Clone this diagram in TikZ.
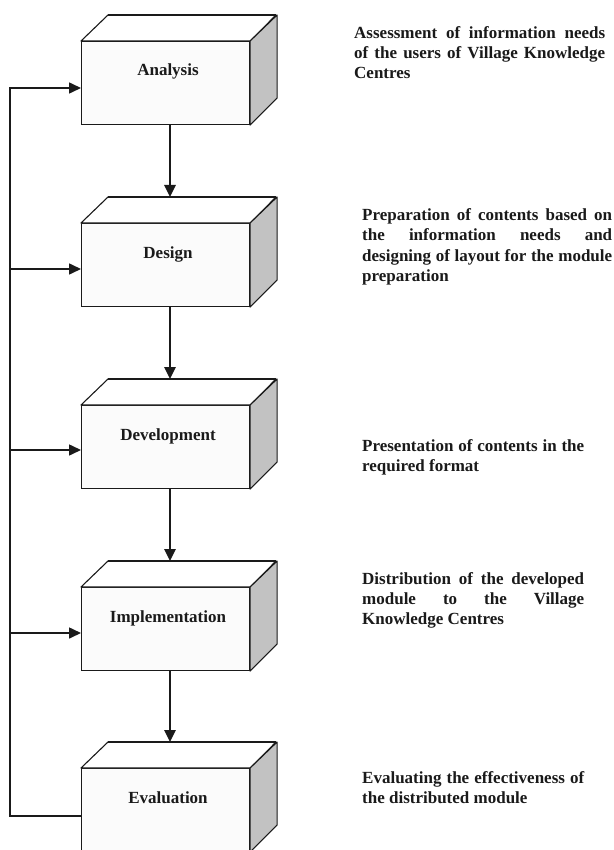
\documentclass[tikz,border=0pt]{standalone}
\usepackage{fontspec}
\setmainfont{Liberation Serif}
\usetikzlibrary{arrows.meta,calc}
\definecolor{sidegray}{HTML}{C2C2C2}
\definecolor{frontgray}{HTML}{FBFBFB}
\definecolor{ink}{HTML}{1A1A1A}
\tikzset{
  front/.style={draw=ink, line width=1.1pt, fill=frontgray, minimum width=168pt, minimum height=83pt, inner sep=0pt, anchor=north west},
  topface/.style={draw=ink, line width=1.1pt, fill=white, line join=round},
  sideface/.style={draw=ink, line width=1.1pt, fill=sidegray, line join=round},
  lbl/.style={font=\bfseries\fontsize{17}{20}\selectfont, text=ink, inner sep=0pt, anchor=base},
  desc/.style={font=\bfseries\fontsize{17}{20}\selectfont, text=ink, inner sep=0pt, anchor=base west, align=justify},
  darrow/.style={draw=ink, line width=2.6pt, -{Triangle[length=12pt,width=11pt]}},
  fbarrow/.style={draw=ink, line width=1.6pt, -{Triangle[length=12pt,width=11pt]}},
  fbline/.style={draw=ink, line width=1.6pt},
}
\newcommand{\stagebox}[4]{%
  \node[front] (#1) at (81,#2) {};
  \filldraw[topface] (#1.north west) -- ++(27,-26) -- ++(168,0) -- (#1.north east) -- cycle;
  \filldraw[sideface] (#1.north east) -- ++(27,-26) -- ++(0,83) -- (#1.south east) -- cycle;
  \draw[ink, line width=#4] ($(#1.north west)+(27,-26)$) -- ++(168,0);
  \node[lbl] (#1L) at (168,{#2+35}) {#3};
}
\begin{document}
\begin{tikzpicture}[x=1pt,y=-1pt]
\useasboundingbox (0,0) rectangle (613,850);
\fill[white] (0,0) rectangle (613,850);

\stagebox{ana}{41}{Analysis}{2.4pt}
\stagebox{des}{223}{Design}{1.1pt}
\stagebox{dev}{405}{Development}{2.4pt}
\stagebox{imp}{587}{Implementation}{2.4pt}
\stagebox{eva}{768}{Evaluation}{1.1pt}

% down arrows
\coordinate (desT) at (170,197);
\coordinate (devT) at (170,379);
\coordinate (impT) at (170,561);
\coordinate (evaT) at (170,742);
\draw[darrow] (ana.south -| desT) -- (desT);
\draw[darrow] (des.south -| devT) -- (devT);
\draw[darrow] (dev.south -| impT) -- (impT);
\draw[darrow] (imp.south -| evaT) -- (evaT);

% feedback loop
\coordinate (fbtop) at (10,88);
\coordinate (fbdes) at (10,269);
\coordinate (fbdev) at (10,450);
\coordinate (fbimp) at (10,633);
\coordinate (fbbot) at (10,816);
\draw[fbarrow] (eva.west |- fbbot) -- (fbbot) -- (fbtop) -- (ana.west |- fbtop);
\draw[fbarrow] (fbdes) -- (des.west |- fbdes);
\draw[fbarrow] (fbdev) -- (dev.west |- fbdev);
\draw[fbarrow] (fbimp) -- (imp.west |- fbimp);

% descriptions
\node[desc, text width=251pt] (t1) at (354,39) {Assessment of information needs\linebreak of the users of Village Knowledge\linebreak Centres};
\node[desc, text width=250pt] (t2) at (362,221) {Preparation of contents based on\linebreak the information needs and\linebreak designing of layout for the module\linebreak preparation};
\node[desc, text width=222pt] (t3) at (362,451) {Presentation of contents in the\linebreak required format};
\node[desc, text width=222pt] (t4) at (362,584) {Distribution of the developed\linebreak module to the Village\linebreak Knowledge Centres};
\node[desc, text width=222pt] (t5) at (362,783) {Evaluating the effectiveness of\linebreak the distributed module};
\end{tikzpicture}
\end{document}
